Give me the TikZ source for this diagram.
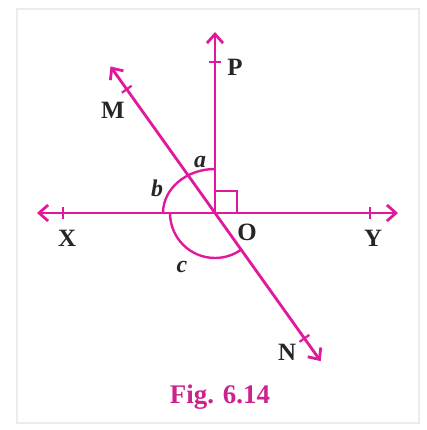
\documentclass[tikz,border=0pt]{standalone}
\usepackage{fontspec}
\setmainfont{Liberation Serif}
\usetikzlibrary{arrows.meta,calc}
\definecolor{linemag}{HTML}{E0189B}
\definecolor{capmag}{HTML}{CC2290}
\definecolor{framegrey}{HTML}{EBEBEB}
\tikzset{
  ray/.style={draw=linemag, line width=2.8bp},
  doubleray/.style={ray, {Straight Barb[length=9bp,width=16bp]}-{Straight Barb[length=9bp,width=16bp]}},
  oneray/.style={ray, -{Straight Barb[length=9bp,width=16bp]}},
  tickmark/.style={draw=linemag, line width=2.2bp},
  anglemark/.style={draw=linemag, line width=2.4bp},
  pointlabel/.style={font=\fontsize{25}{27}\selectfont\bfseries, text=black!85, inner sep=0pt},
  anglelabel/.style={font=\fontsize{24}{26}\selectfont\bfseries\itshape, text=black!85, inner sep=0pt},
  caption/.style={font=\fontsize{27}{29}\selectfont\bfseries, text=capmag, inner sep=0pt}
}

\begin{document}
\begin{tikzpicture}[x=1bp,y=1bp]

% --- Frame ---
\useasboundingbox (0,0) rectangle (427,430);
\draw[framegrey, line width=2bp] (17,7) rectangle (419,421);

% --- Points ---
\coordinate (O) at (215,217);
\coordinate (xtip) at (37,217);
\coordinate (ytip) at (398,217);
\coordinate (ptip) at (215,398);
\coordinate (mtip) at ($(O)+(125.5:180)$);
\coordinate (ntip) at ($(O)+(-54.5:182)$);

% --- Lines XY, MN and ray OP ---
\draw[doubleray] (xtip) -- (ytip);
\draw[doubleray] (mtip) -- (ntip);
\draw[oneray] (O) -- (ptip);

% Ticks near the ends.
\coordinate (xt) at ($(O)!152bp!(xtip)$);
\coordinate (yt) at ($(O)!155bp!(ytip)$);
\coordinate (pt) at ($(O)!151bp!(ptip)$);
\coordinate (mt) at ($(O)!152bp!(mtip)$);
\coordinate (nt) at ($(O)!154bp!(ntip)$);
\draw[tickmark] ($(xt)!6bp!90:(xtip)$) -- ($(xt)!6bp!-90:(xtip)$);
\draw[tickmark] ($(yt)!6bp!90:(ytip)$) -- ($(yt)!6bp!-90:(ytip)$);
\draw[tickmark] ($(pt)!6bp!90:(ptip)$) -- ($(pt)!6bp!-90:(ptip)$);
\draw[tickmark] ($(mt)!6bp!90:(mtip)$) -- ($(mt)!6bp!-90:(mtip)$);
\draw[tickmark] ($(nt)!6bp!90:(ntip)$) -- ($(nt)!6bp!-90:(ntip)$);

% --- Angle marks ---
\draw[anglemark] ($(O)+(0,22)$) -| ($(O)+(22,0)$);
\draw[anglemark] ($(O)+(0,44)$) arc[start angle=90, end angle=180, x radius=52, y radius=44];
\draw[anglemark] ($(O)+(-45,0)$) arc[start angle=180, end angle=305.5, radius=45];

% --- Labels ---
\node[pointlabel] (olab) at (247,198) {O};
\node[pointlabel] (plab) at (235,363) {P};
\node[pointlabel] (mlab) at (113,320) {M};
\node[pointlabel] (xlab) at (67,192) {X};
\node[pointlabel] (ylab) at (373,192) {Y};
\node[pointlabel] (nlab) at (287,78) {N};
\node[anglelabel] (alab) at (200,268) {a};
\node[anglelabel] (blab) at (157,242) {b};
\node[anglelabel] (clab) at (182,163) {c};

% --- Caption ---
\node[caption] (fig) at (220,33) {Fig. 6.14};

\end{tikzpicture}
\end{document}
